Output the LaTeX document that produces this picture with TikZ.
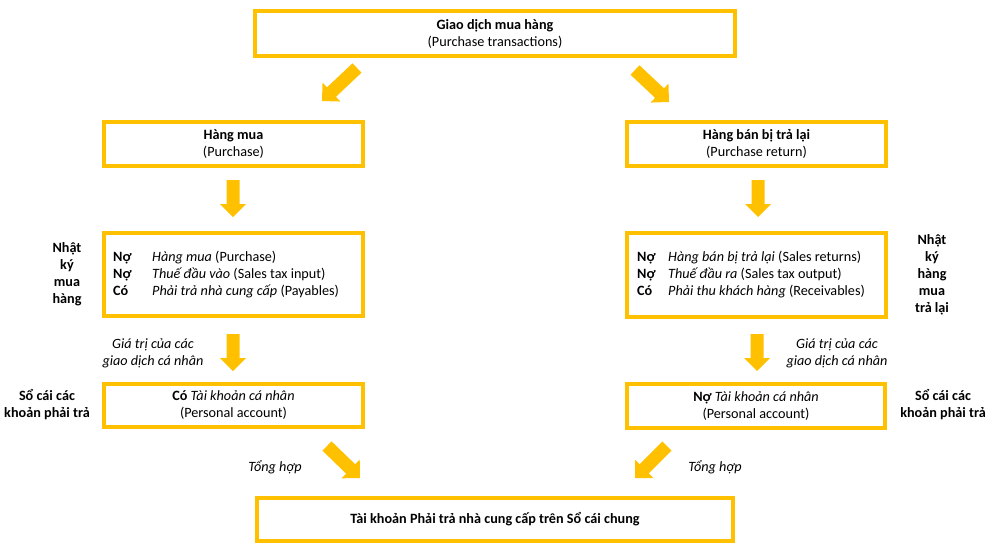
\documentclass[tikz,border=0pt]{standalone}
\usepackage{fontspec}
\setmainfont{Carlito}
\usetikzlibrary{calc}
\definecolor{gold}{HTML}{FFC000}
\newcommand\fsz{\fontsize{14.2}{17}\selectfont}
\newcommand\blkarrow[2]{%
  \path ($(#2)!13pt!(#1)$) coordinate (hb);
  \fill[gold] ($(#1)!6.5pt!90:(#2)$) -- ($(hb)!6.5pt!90:(#2)$) -- ($(hb)!13pt!90:(#2)$) -- (#2)
    -- ($(hb)!13pt!-90:(#2)$) -- ($(hb)!6.5pt!-90:(#2)$) -- ($(#1)!6.5pt!-90:(#2)$) -- cycle;
}
\newcommand\lcol[2]{\makebox[#1][l]{\bfseries #2}}
\tikzset{
  box/.style={draw=gold, line width=4pt, inner sep=0pt, align=center, font=\fsz},
  jtext/.style={anchor=west, align=left, inner sep=0pt, font=\fsz},
  lbl/.style={align=center, inner sep=0pt, font=\fsz\bfseries},
  note/.style={align=center, inner sep=0pt, font=\fsz\itshape},
}
\begin{document}
\begin{tikzpicture}[x=1pt, y=-1pt]
\useasboundingbox (0,0) rectangle (995,550);
% boxes
\node[box, minimum width=480pt, minimum height=45pt] (top) at (495,33.5)
  {\textbf{Giao dịch mua hàng}\\(Purchase transactions)};
\node[box, minimum width=259pt, minimum height=44pt] (hm) at (233.5,144)
  {\textbf{Hàng mua}\\(Purchase)};
\node[box, minimum width=259pt, minimum height=44pt] (hb2) at (756.5,144)
  {\textbf{Hàng bán bị trả lại}\\(Purchase return)};
\node[box, minimum width=259pt, minimum height=83pt] (jl) at (233.5,274.5) {};
\node[jtext] (jlt) at (113,275)
  {\lcol{39pt}{Nợ}\textit{Hàng mua} (Purchase)\\
   \lcol{39pt}{Nợ}\textit{Thuế đầu vào} (Sales tax input)\\
   \lcol{39pt}{Có}\textit{Phải trả nhà cung cấp} (Payables)};
\node[box, minimum width=259pt, minimum height=84pt] (jr) at (756.5,275) {};
\node[jtext] (jrt) at (637,275)
  {\lcol{31pt}{Nợ}\textit{Hàng bán bị trả lại} (Sales returns)\\
   \lcol{31pt}{Nợ}\textit{Thuế đầu ra} (Sales tax output)\\
   \lcol{31pt}{Có}\textit{Phải thu khách hàng} (Receivables)};
\node[box, minimum width=259pt, minimum height=43pt] (pl) at (233.5,405.5)
  {\textbf{Có} \textit{Tài khoản cá nhân}\\(Personal account)};
\node[box, minimum width=258pt, minimum height=44pt] (pr) at (756,406)
  {\textbf{Nợ} \textit{Tài khoản cá nhân}\\(Personal account)};
\node[box, minimum width=476pt, minimum height=43pt] (bot) at (495,519.5)
  {\textbf{Tài khoản Phải trả nhà cung cấp trên Sổ cái chung}};
% side labels
\node[lbl] (nkl) at (67,274) {Nhật\\ký\\mua\\hàng};
\node[lbl] (nkr) at (932,275) {Nhật\\ký\\hàng\\mua\\trả lại};
\node[lbl] (scl) at (47,405) {Sổ cái các\\khoản phải trả};
\node[lbl] (scr) at (943,405) {Sổ cái các\\khoản phải trả};
\node[note] (gtl) at (153,353.5) {Giá trị của các\\giao dịch cá nhân};
\node[note] (gtr) at (837,353.5) {Giá trị của các\\giao dịch cá nhân};
\node[note] (thl) at (275,467) {Tổng hợp};
\node[note] (thr) at (715,467) {Tổng hợp};
% arrows
\coordinate (a1s) at (357,68);  \coordinate (a1e) at (322,101);
\coordinate (a2s) at (635,70);  \coordinate (a2e) at (669,102);
\coordinate (a3s) at (233,180); \coordinate (a3e) at (233,217);
\coordinate (a4s) at (758,180); \coordinate (a4e) at (758,217);
\coordinate (a5s) at (233,334); \coordinate (a5e) at (233,371);
\coordinate (a6s) at (757,334); \coordinate (a6e) at (757,371);
\coordinate (a7s) at (327,446); \coordinate (a7e) at (360,478);
\coordinate (a8s) at (667,446); \coordinate (a8e) at (635,478);
\blkarrow{a1s}{a1e}
\blkarrow{a2s}{a2e}
\blkarrow{a3s}{a3e}
\blkarrow{a4s}{a4e}
\blkarrow{a5s}{a5e}
\blkarrow{a6s}{a6e}
\blkarrow{a7s}{a7e}
\blkarrow{a8s}{a8e}
\end{tikzpicture}
\end{document}
